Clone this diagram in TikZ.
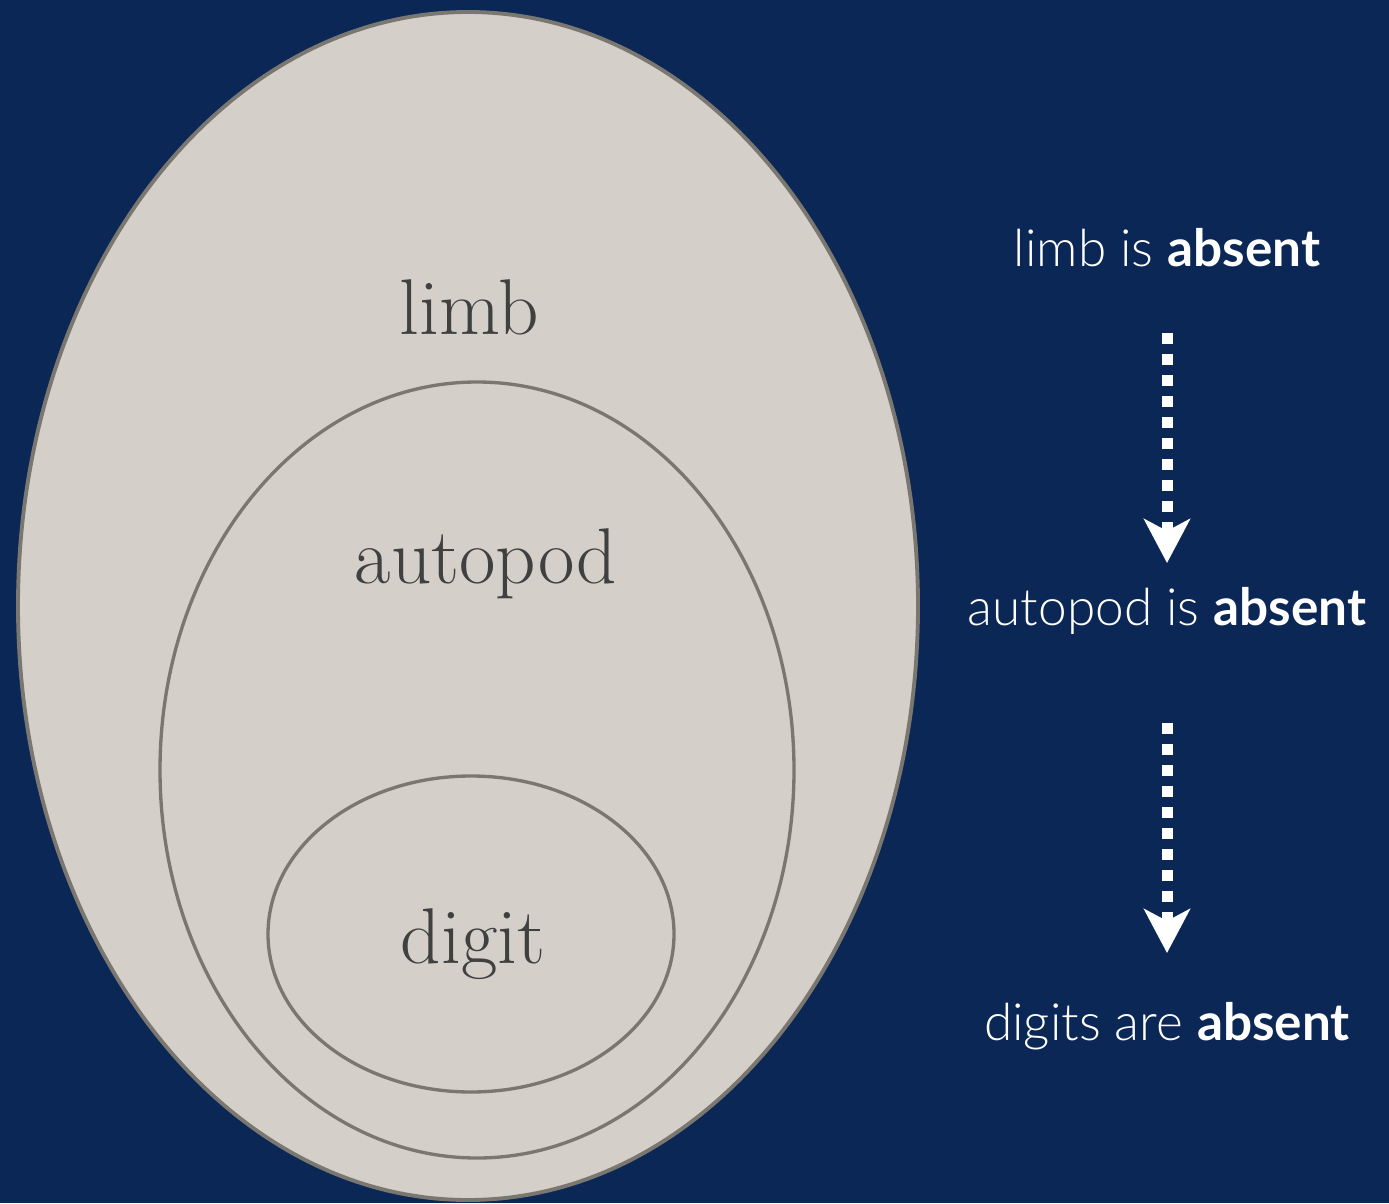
\documentclass[tikz,border=0pt]{standalone}
\usepackage{fontspec}
\setsansfont{Lato}[UprightFont=* Light, BoldFont=* Bold]
\definecolor{nightblue}{RGB}{11, 39, 86}
\definecolor{boneface}{RGB}{212, 208, 201}
\definecolor{boneline}{RGB}{122, 119, 113}
\definecolor{labelgray}{RGB}{64, 64, 64}
\usetikzlibrary{arrows.meta, positioning}

\begin{document}
\begin{tikzpicture}[
    setline/.style={draw=boneline, line width=0.95pt},
    setname/.style={anchor=base, text=labelgray, font=\fontsize{22.5}{26}\selectfont},
    stateline/.style={anchor=base, text=white, font=\sffamily\fontsize{14.6}{17}\selectfont},
    lossarrow/.style={white, line width=0.11cm, dash pattern=on 0.11cm off 0.1cm,
      -{Stealth[length=0.44cm, width=0.46cm, inset=0.12cm]}}
  ]
  % Background
  \fill[nightblue] (0, 0) rectangle (13.89, 12.03);
  \useasboundingbox (0, 0) rectangle (13.89, 12.03);

  % Nested sets
  \filldraw[setline, fill=boneface, line width=1.1pt] (4.68, 5.97) ellipse (4.50 and 5.94);
  \draw[setline] (4.77, 4.33) ellipse (3.17 and 3.88);
  \draw[setline] (4.71, 2.69) ellipse (2.03 and 1.58);

  \node[setname] (limb) at (4.69, 8.68) {limb};
  \node[setname] (autopod) at (4.86, 6.20) {autopod};
  \node[setname] (digit) at (4.73, 2.40) {digit};

  % Right column: what is lost
  \node[stateline] (nolimb) at (11.67, 9.36) {limb is \textbf{absent}};
  \node[stateline] (noautopod) at (11.67, 5.78) {autopod is \textbf{absent}};
  \node[stateline] (nodigit) at (11.67, 1.63) {digits are \textbf{absent}};

  \coordinate (a1) at (11.67, 8.70);
  \coordinate (b1) at (11.67, 6.40);
  \coordinate (a2) at (11.67, 4.80);
  \coordinate (b2) at (11.67, 2.50);

  \draw[lossarrow] (a1) -- (b1);
  \draw[lossarrow] (a2) -- (b2);
\end{tikzpicture}
\end{document}
